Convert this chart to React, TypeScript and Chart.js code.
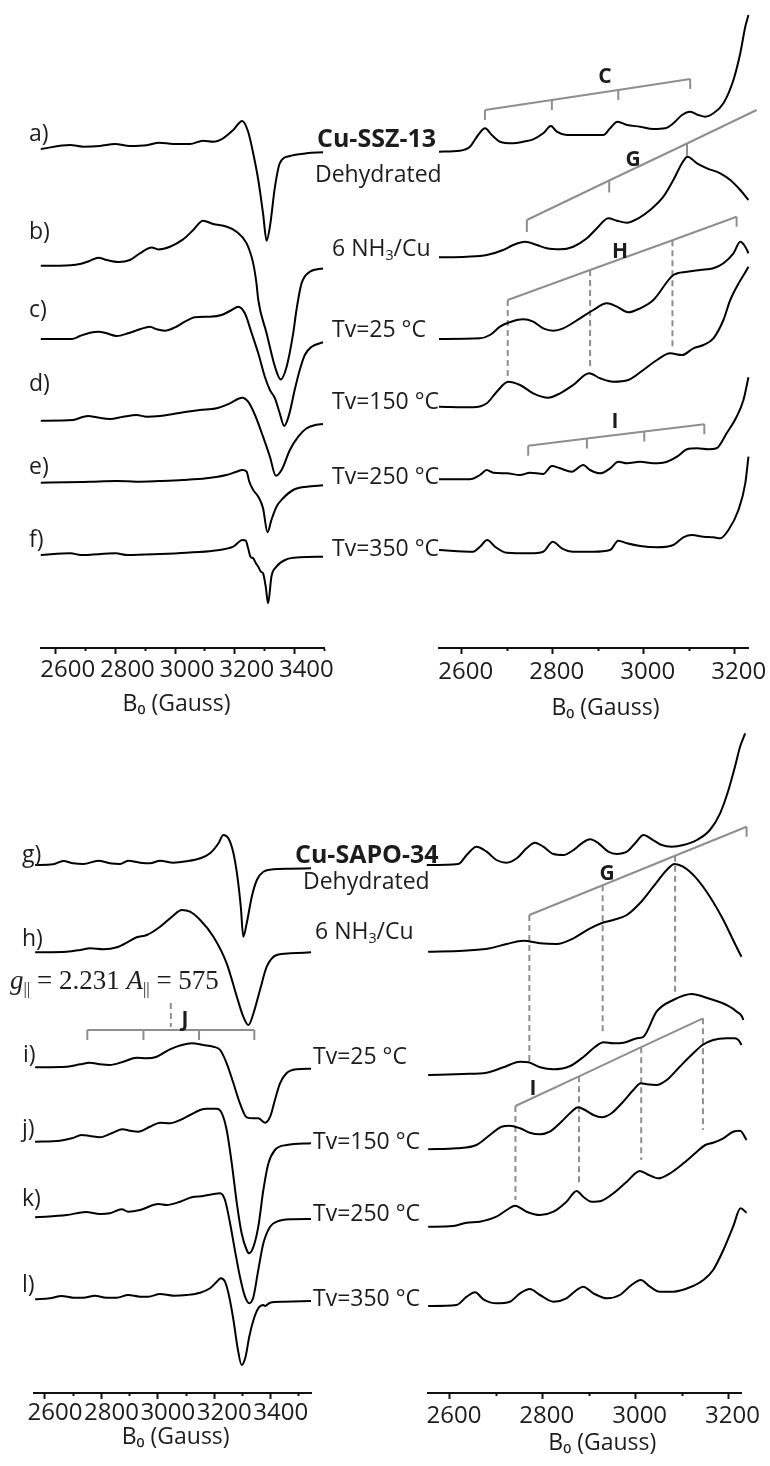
import React, { useEffect, useRef } from 'react';
import { Chart, registerables } from 'chart.js';

Chart.register(...registerables);

// ---------------- Spectra: field (G) and intensity (a.u., relative to each trace's baseline) ----------------
// Cu-SSZ-13, full field range (top-left)
const tlA_B = [2550, 2648, 2692, 2748, 2799, 2849, 2905, 2947, 2994, 3050, 3094, 3128, 3161, 3195, 3225, 3245, 3262, 3279, 3295, 3307, 3318, 3335, 3351, 3385, 3441, 3496];
const tlA_I = [0, 4, 2.3, 3, 5, 3, 3.7, 6.3, 5, 5, 8.3, 7.3, 10.7, 19, 28, 17.3, -4.3, -31, -64.3, -91.7, -77.7, -37.7, -14.3, -7, -4.3, -3.3];
const tlB_B = [2550, 2614, 2681, 2715, 2743, 2771, 2810, 2849, 2882, 2922, 2944, 2983, 3027, 3061, 3094, 3128, 3173, 3206, 3240, 3262, 3273, 3279, 3307, 3335, 3354, 3374, 3396, 3407, 3424, 3452, 3496];
const tlB_I = [0, 0, 1.7, 5, 8, 5.7, 3.7, 5.7, 12.3, 18.3, 16.3, 19, 26.3, 35.7, 45, 41.7, 39, 34, 22.3, 2.3, -17.7, -34.3, -67.7, -101, -113.7, -101, -67.7, -44.3, -17.7, -6, -2.7];
const tlC_B = [2550, 2654, 2681, 2715, 2743, 2771, 2804, 2843, 2882, 2916, 2938, 2966, 3000, 3033, 3067, 3117, 3156, 3190, 3212, 3234, 3257, 3279, 3301, 3318, 3335, 3351, 3366, 3382, 3401, 3418, 3435, 3458, 3496];
const tlC_I = [0, 0, 3, 6.3, 7.3, 5.7, 3, 5.7, 9.7, 12.3, 9.7, 8.3, 11.7, 17.3, 21.7, 22.3, 24, 29, 32.3, 25.7, 5.7, -14.3, -37.7, -51, -59.3, -74.3, -87, -76, -51, -31, -16, -7.7, -3.3];
const tlD_B = [2550, 2659, 2687, 2709, 2737, 2782, 2826, 2871, 2905, 2949, 2994, 3039, 3083, 3139, 3184, 3225, 3245, 3268, 3295, 3318, 3338, 3357, 3385, 3413, 3441, 3474, 3496];
const tlD_I = [0, 0.7, 3.4, 4.7, 3.4, 1.7, 4, 5.7, 4, 4.7, 6.7, 9, 10.7, 12.4, 17.4, 23, 19, 5.7, -16, -36, -55, -49.3, -29.3, -16, -7.6, -4, -3.3];
const tlE_B = [2550, 2637, 2715, 2804, 2871, 2949, 3027, 3105, 3172, 3206, 3226, 3240, 3249, 3262, 3279, 3295, 3310, 3323, 3340, 3362, 3396, 3441, 3496];
const tlE_I = [0, 0.4, 1, 1.7, 1, 1.7, 2.7, 4.4, 7.7, 11, 12.7, 11, 1, -7.3, -14, -25.6, -49.6, -37.3, -24, -15.6, -7.3, -4, -2.6];
const tlF_B = [2550, 2650, 2684, 2801, 2841, 2949, 3039, 3128, 3195, 3226, 3237, 3245, 3253, 3262, 3271, 3279, 3288, 3295, 3304, 3312, 3323, 3340, 3374, 3418, 3496];
const tlF_I = [0, 1.7, 0, 1.7, 0, 1, 2.3, 4.3, 8.3, 15, 14.3, 6.7, -1.7, -3.3, -8.3, -11.7, -16.7, -18.3, -31.7, -48.3, -21.7, -11.7, -4.3, -2.3, -1.7];
const tlOffsets = [499, 382.3, 309, 227.3, 165.3, 93];

// Cu-SSZ-13, parallel region (top-right)
const trA_B = [2550, 2596, 2618, 2636, 2651, 2666, 2684, 2713, 2735, 2757, 2779, 2796, 2809, 2831, 2875, 2911, 2926, 2942, 2963, 2992, 3021, 3047, 3065, 3084, 3102, 3120, 3135, 3153, 3175, 3197, 3212, 3223, 3230];
const trA_I = [0, 1, 5, 16.7, 23.4, 16.7, 10, 8.4, 10, 12.4, 18.4, 25.7, 20, 16.7, 16.7, 16.7, 23.4, 30, 26.7, 25, 22.7, 23.4, 28.4, 36.7, 40, 36.7, 35, 38.4, 48.4, 71.7, 98.4, 125, 136.7];
const trB_B = [2550, 2611, 2655, 2691, 2713, 2739, 2765, 2787, 2816, 2845, 2875, 2897, 2922, 2941, 2963, 2988, 3014, 3043, 3065, 3084, 3096, 3117, 3139, 3168, 3190, 3212, 3230];
const trB_I = [0, 0.6, 2.3, 7.3, 12.3, 15.6, 12.3, 9, 8, 10.6, 19, 29, 39, 36.6, 34.6, 39, 47.3, 60.6, 77.3, 94, 100.6, 94, 89, 84, 77.3, 67.3, 57.3];
const trC_B = [2550, 2640, 2662, 2684, 2702, 2735, 2757, 2779, 2801, 2823, 2860, 2889, 2919, 2941, 2966, 2992, 3021, 3065, 3095, 3124, 3153, 3175, 3197, 3212, 3223, 3230];
const trC_I = [0, 0.7, 4, 12.3, 16.3, 19.7, 17.3, 10.7, 8.3, 10.7, 20.7, 29, 35.7, 32.3, 26.7, 30.7, 39, 64, 67.3, 69, 70.7, 75.7, 85.7, 97.3, 92.3, 85.7];
const trD_B = [2550, 2625, 2655, 2677, 2702, 2728, 2757, 2790, 2816, 2845, 2880, 2904, 2933, 2966, 2999, 3029, 3058, 3084, 3109, 3131, 3153, 3175, 3190, 3230];
const trD_I = [0, -0.6, 3.4, 15, 25, 21.7, 13.4, 9, 13.4, 21.7, 33.4, 28.4, 25, 26.7, 36.7, 46.7, 53.4, 51.7, 58.4, 61.7, 68.4, 86.7, 106.7, 140];
const trE_B = [2550, 2618, 2640, 2655, 2669, 2699, 2728, 2750, 2779, 2798, 2816, 2842, 2867, 2882, 2904, 2926, 2944, 2963, 2992, 3021, 3051, 3073, 3095, 3117, 3142, 3160, 3182, 3204, 3219, 3230];
const trE_I = [0, 0, 4.3, 9.3, 6.6, 6, 4.3, 6.6, 5.3, 13.3, 11, 7.6, 14.3, 9.3, 6, 11, 17.6, 16, 17.6, 16, 17.6, 22.6, 30, 31, 30, 31, 46, 62.6, 79.3, 102];
const trF_B = [2550, 2625, 2640, 2656, 2673, 2699, 2750, 2779, 2800, 2820, 2845, 2889, 2926, 2944, 2963, 2992, 3029, 3065, 3087, 3106, 3131, 3153, 3168, 3186, 3208, 3223, 3230];
const trF_I = [0, -1.7, 3.3, 10, 3.3, -2.7, -3.3, -1.7, 8.3, 1.7, -1.7, -1.7, 0, 9.3, 6.7, 4, 2.7, 5, 12.7, 15, 13.3, 12.7, 11.7, 20, 40, 66.7, 93.3];
const trOffsets = [496.3, 390.7, 309, 241.3, 168.7, 98];

// Cu-SAPO-34, full field range (bottom-left)
const blG_B = [2565, 2629, 2665, 2700, 2736, 2789, 2830, 2866, 2895, 2937, 2972, 3008, 3055, 3102, 3150, 3185, 3215, 3232, 3250, 3268, 3282, 3294, 3303, 3315, 3333, 3351, 3374, 3410, 3469, 3543];
const blG_I = [0, 0.7, 4, 1.7, 1, 4.3, 1.7, 1, 4.3, 2.3, 1.7, 4.3, 2.3, 3.7, 6.7, 11.7, 21.7, 30, 26.7, 11.7, -11.7, -41.7, -71.7, -58.3, -31.7, -15, -6.7, -4.3, -3.7, -3.3];
const blH_B = [2565, 2677, 2725, 2760, 2807, 2855, 2896, 2925, 2961, 3008, 3050, 3085, 3114, 3150, 3197, 3244, 3280, 3303, 3321, 3339, 3362, 3386, 3421, 3469, 3543];
const blH_I = [0, 0.6, 2.3, 4, 3, 5, 10.6, 15, 17.3, 25.6, 35.6, 42.3, 40.6, 32.3, 15.6, -11, -44.4, -64.4, -72.7, -61, -37.7, -14.4, -2.7, -1, 0];
const blI_B = [2565, 2677, 2725, 2758, 2795, 2830, 2878, 2925, 2961, 2996, 3043, 3085, 3120, 3161, 3197, 3221, 3244, 3268, 3291, 3315, 3339, 3356, 3380, 3398, 3415, 3433, 3456, 3492, 3543];
const blI_I = [0, 0.6, 3, 4.6, 3, 2.3, 5.6, 9.6, 9, 10.6, 18, 22.3, 24, 22.3, 20.6, 17.3, 4, -16, -36, -50, -51, -51, -55.4, -49.4, -32.7, -16, -6, -2, -1.4];
const blJ_B = [2565, 2653, 2695, 2730, 2759, 2795, 2836, 2875, 2901, 2930, 2972, 3008, 3043, 3079, 3114, 3150, 3173, 3209, 3227, 3244, 3262, 3280, 3297, 3315, 3324, 3339, 3356, 3374, 3392, 3415, 3457, 3543];
const blJ_I = [0, 1, 3.4, 6.7, 5.7, 4.4, 8.4, 12.4, 11, 10, 15, 19, 18.4, 21.7, 26.7, 31.7, 33, 33, 28.4, 11.7, -21.6, -61.6, -91.6, -108.3, -111.6, -105, -85, -48.3, -21.6, -8.3, -3.3, -1.6];
const blK_B = [2565, 2677, 2745, 2795, 2830, 2872, 2895, 2937, 3002, 3031, 3079, 3120, 3161, 3197, 3221, 3238, 3256, 3273, 3291, 3309, 3324, 3339, 3356, 3374, 3398, 3422, 3469, 3543];
const blK_I = [0, 2.3, 5.3, 3.3, 4, 8, 5.6, 7.3, 13.3, 12.3, 15.6, 20, 21.3, 23.3, 24, 17.3, -6, -32.7, -59.4, -79.4, -86, -79.4, -52.7, -26, -9.4, -4.4, -2, -1.7];
const blL_B = [2565, 2617, 2659, 2700, 2735, 2777, 2818, 2854, 2895, 2937, 2966, 3008, 3055, 3102, 3150, 3185, 3209, 3223, 3238, 3253, 3268, 3282, 3297, 3311, 3324, 3339, 3356, 3374, 3380, 3398, 3445, 3543];
const blL_I = [0, 1, 3.3, 1.6, 1.6, 3.6, 1.6, 1.6, 4.3, 2.6, 2.6, 5.3, 3.6, 4.3, 6.6, 11, 17.6, 21, 17.6, 2.6, -20.7, -47.4, -65.7, -57.4, -37.4, -20.7, -9, -5.7, -6.7, -3.4, -2.4, -1.7];
const blOffsets = [528, 440.7, 325.7, 251.3, 175.7, 93.7];

// Cu-SAPO-34, parallel region (bottom-right)
const brG_B = [2550, 2618, 2636, 2657, 2679, 2700, 2722, 2744, 2765, 2783, 2801, 2823, 2844, 2866, 2884, 2902, 2920, 2941, 2959, 2981, 2999, 3017, 3035, 3056, 3078, 3103, 3132, 3160, 3182, 3200, 3214, 3225, 3236];
const brG_I = [0, 1, 10, 18.3, 13.3, 5, 2.3, 6.7, 16.7, 22.3, 18.3, 11, 10, 15, 21.7, 25.7, 21.7, 13.3, 11, 13.3, 21.7, 30, 25.7, 20, 18.3, 20, 25, 35, 51.7, 75, 98.3, 118.3, 131.7];
const brH_B = [2553, 2629, 2686, 2722, 2758, 2794, 2830, 2866, 2902, 2929, 2952, 2981, 3009, 3038, 3067, 3084, 3102, 3131, 3160, 3189, 3210, 3228, 3239];
const brH_I = [0, 1, 3.4, 7.7, 11, 8.4, 7.7, 13.4, 23.4, 29, 31.7, 36.7, 48.4, 65, 81.7, 87.7, 85, 73.4, 55, 31.7, 11.7, -5, -13.3];
const brI_B = [2553, 2629, 2679, 2715, 2751, 2769, 2794, 2823, 2859, 2888, 2913, 2931, 2952, 2974, 3003, 3017, 3045, 3081, 3121, 3146, 3168, 3196, 3218, 3232, 3239];
const brI_I = [0, 1, 2.3, 7.7, 13.3, 12.7, 7.7, 5.7, 9, 18.3, 28.3, 32.7, 31.7, 32.3, 36.7, 38.3, 63.3, 75, 81, 78.3, 75, 70, 63.3, 55, 37];
const brJ_B = [2553, 2614, 2657, 2686, 2711, 2729, 2751, 2772, 2794, 2815, 2840, 2862, 2876, 2891, 2909, 2927, 2948, 2973, 2995, 3011, 3024, 3045, 3067, 3095, 3124, 3144, 3167, 3196, 3214, 3228, 3239];
const brJ_I = [0, 1, 4.3, 14.3, 22.6, 23.6, 21, 16.6, 15, 17.6, 27.6, 37.6, 42, 39.3, 34.3, 32, 36, 47.6, 59.3, 66, 65, 64.3, 69.3, 82.6, 96, 104.3, 109.3, 111, 111, 104.3, 87.6];
const brK_B = [2553, 2607, 2636, 2664, 2700, 2722, 2740, 2765, 2794, 2823, 2851, 2873, 2887, 2905, 2927, 2952, 2981, 3009, 3024, 3049, 3074, 3103, 3132, 3150, 3167, 3189, 3210, 3225, 3239];
const brK_I = [0, 0.7, 4, 5, 10, 16.7, 21, 15, 11.7, 15, 25, 35.7, 30, 25, 26, 33.4, 45, 55.7, 52.7, 48.4, 53.4, 63.4, 75, 81.7, 84, 88.4, 95, 96, 86.7];
const brL_B = [2553, 2614, 2636, 2654, 2672, 2700, 2729, 2751, 2772, 2794, 2823, 2851, 2873, 2887, 2909, 2938, 2966, 2991, 3011, 3031, 3052, 3081, 3117, 3146, 3167, 3189, 3210, 3226, 3239];
const brL_I = [0, 1, 9.3, 13.7, 6.7, 2.7, 4.3, 12.7, 17, 11, 4.3, 7.7, 16, 19.3, 12.7, 7.7, 11, 21, 26, 19.3, 14.3, 14.3, 18.7, 26, 36, 56, 79.3, 97.7, 93.3];
const brOffsets = [528, 441.3, 318, 243.7, 166.3, 87];

// ---------------- Hyperfine brackets (field positions and bracket heights) ----------------
const bracketC_B = [2651, 2798, 2944, 3102];
const bracketC_top = [538, 548, 558, 569];
const bracketGt_B = [2743, 2924, 3095, 3248];
const bracketGt_top = [428, 467.5, 504.5, 538];
const bracketH_B = [2701, 2882, 3063, 3204];
const bracketH_top = [348, 378, 407.8, 431.3];
const bracketH_drop = [269.7, 279.7, 299.7, null];
const bracketIt_B = [2746, 2875, 3001, 3133];
const bracketIt_top = [202.3, 209.4, 216.4, 223.7];
const bracketJ_B = [2750, 2949, 3146, 3342];
const bracketJ_top = [363, 363, 363, 363];
const markerJ_B = 3046;
const markerJ_span = [366, 390];
const bracketGb_B = [2771, 2929, 3085, 3239];
const bracketGb_top = [478, 507.8, 537.2, 566.3];
const bracketGb_drop = [329.7, 358, 399.7, null];
const bracketIb_B = [2741, 2878, 3012, 3145];
const bracketIb_top = [287, 316.7, 345.8, 374.7];
const bracketIb_drop = [193, 209.7, 233, 263];

const TICK_LABEL_STEP = 200;
const TICK_STEP = 100;

const SANS = '"Open Sans", "DejaVu Sans", sans-serif';
const TEXT = '#1c1c1c';
const GREY = '#8e8e8e';

function spectrum(B: number[], I: number[], offset: number) {
  return {
    data: B.map((b, k) => ({ x: b, y: I[k] + offset })),
    borderColor: '#000',
    borderWidth: 2,
    pointRadius: 0,
    fill: false,
    cubicInterpolationMode: 'monotone',
    clip: false,
  };
}

function bracketSets(B: number[], tops: number[], tick: number, drops?: (number | null)[]) {
  const solidTicks: any[] = [];
  const dashed: any[] = [];
  B.forEach((b, i) => {
    const d = drops ? drops[i] : null;
    if (d !== null && d !== undefined) {
      dashed.push({ x: b, y: tops[i] }, { x: b, y: d }, { x: b, y: null });
    } else {
      solidTicks.push({ x: b, y: tops[i] }, { x: b, y: tops[i] - tick }, { x: b, y: null });
    }
  });
  const base = { borderColor: GREY, borderWidth: 2, pointRadius: 0, tension: 0, clip: false, spanGaps: false, fill: false };
  const sets: any[] = [
    { ...base, data: B.map((b, i) => ({ x: b, y: tops[i] })) },
  ];
  if (solidTicks.length) sets.push({ ...base, data: solidTicks });
  if (dashed.length) sets.push({ ...base, borderDash: [6, 4], data: dashed });
  return sets;
}

type PanelCfg = {
  top: number; height: number; left: number; right: number; axisY: number;
  xMin: number; xMax: number; labelOffset: number; tickPad: number; title: string;
  datasets: any[];
};

function makeConfig(p: PanelCfg): any {
  const areaBottom = p.axisY - p.top;
  return {
    type: 'line',
    data: { datasets: p.datasets },
    options: {
      animation: false,
      responsive: false,
      maintainAspectRatio: false,
      devicePixelRatio: 1,
      events: [],
      layout: { padding: { left: p.left, right: 770 - p.right, top: 0, bottom: 0 } },
      plugins: { legend: { display: false }, tooltip: { enabled: false }, title: { display: false } },
      scales: {
        y: { display: false, min: 0, max: areaBottom },
        x: {
          type: 'linear',
          position: 'bottom',
          min: p.xMin,
          max: p.xMax,
          afterFit: (s: any) => { s.height = p.height - areaBottom; },
          border: { display: true, color: '#111', width: 2 },
          grid: {
            drawOnChartArea: false,
            drawTicks: true,
            tickLength: 6,
            tickColor: '#111',
            tickWidth: 2,
            tickBorderDash: (c: any) => (c.tick && c.tick.value % TICK_LABEL_STEP !== 0 ? [2, 40] : []),
          },
          ticks: {
            stepSize: TICK_STEP,
            includeBounds: false,
            autoSkip: false,
            maxRotation: 0,
            minRotation: 0,
            padding: p.tickPad,
            labelOffset: p.labelOffset,
            color: TEXT,
            font: { family: SANS, size: 24 },
            callback: (v: any) => (Number(v) % TICK_LABEL_STEP === 0 ? String(v) : ''),
          },
          title: { display: true, text: p.title, color: TEXT, font: { family: SANS, size: 23 }, padding: 0 },
        },
      },
    },
  };
}

function Panel({ cfg }: { cfg: PanelCfg }) {
  const ref = useRef<HTMLCanvasElement>(null);
  useEffect(() => {
    const chart = new Chart(ref.current as HTMLCanvasElement, makeConfig(cfg));
    return () => chart.destroy();
  }, []);
  return (
    <canvas
      ref={ref}
      width={770}
      height={cfg.height}
      style={{ position: 'absolute', left: 0, top: cfg.top, width: 770, height: cfg.height }}
    />
  );
}

const NB = '\u00a0';

const panelTL: PanelCfg = {
  top: 0, height: 718, left: 40.8, right: 324.2, axisY: 648, xMin: 2550, xMax: 3500, labelOffset: 12, tickPad: 2,
  title: 'B\u2080 (Gauss)' + NB + NB,
  datasets: [
    spectrum(tlA_B, tlA_I, tlOffsets[0]), spectrum(tlB_B, tlB_I, tlOffsets[1]), spectrum(tlC_B, tlC_I, tlOffsets[2]),
    spectrum(tlD_B, tlD_I, tlOffsets[3]), spectrum(tlE_B, tlE_I, tlOffsets[4]), spectrum(tlF_B, tlF_I, tlOffsets[5]),
  ],
};
const panelTR: PanelCfg = {
  top: 0, height: 722, left: 439, right: 748, axisY: 648, xMin: 2550, xMax: 3229, labelOffset: 4, tickPad: 4,
  title: NB.repeat(4) + 'B\u2080 (Gauss)',
  datasets: [
    spectrum(trA_B, trA_I, trOffsets[0]), spectrum(trB_B, trB_I, trOffsets[1]), spectrum(trC_B, trC_I, trOffsets[2]),
    spectrum(trD_B, trD_I, trOffsets[3]), spectrum(trE_B, trE_I, trOffsets[4]), spectrum(trF_B, trF_I, trOffsets[5]),
    ...bracketSets(bracketC_B, bracketC_top, 10),
    ...bracketSets(bracketGt_B, bracketGt_top, 12),
    ...bracketSets(bracketH_B, bracketH_top, 10, bracketH_drop),
    ...bracketSets(bracketIt_B, bracketIt_top, 10),
  ],
};
const panelBL: PanelCfg = {
  top: 700, height: 751, left: 33.7, right: 311.6, axisY: 1393, xMin: 2560, xMax: 3545, labelOffset: 10, tickPad: 0,
  title: NB + 'B\u2080 (Gauss)',
  datasets: [
    spectrum(blG_B, blG_I, blOffsets[0]), spectrum(blH_B, blH_I, blOffsets[1]), spectrum(blI_B, blI_I, blOffsets[2]),
    spectrum(blJ_B, blJ_I, blOffsets[3]), spectrum(blK_B, blK_I, blOffsets[4]), spectrum(blL_B, blL_I, blOffsets[5]),
    ...bracketSets(bracketJ_B, bracketJ_top, 10),
    ...bracketSets([markerJ_B], [markerJ_span[1]], 0, [markerJ_span[0]]),
  ],
};
const panelBR: PanelCfg = {
  top: 700, height: 757, left: 427.7, right: 741, axisY: 1393, xMin: 2552, xMax: 3227, labelOffset: 4, tickPad: 3,
  title: NB.repeat(6) + 'B\u2080 (Gauss)',
  datasets: [
    spectrum(brG_B, brG_I, brOffsets[0]), spectrum(brH_B, brH_I, brOffsets[1]), spectrum(brI_B, brI_I, brOffsets[2]),
    spectrum(brJ_B, brJ_I, brOffsets[3]), spectrum(brK_B, brK_I, brOffsets[4]), spectrum(brL_B, brL_I, brOffsets[5]),
    ...bracketSets(bracketGb_B, bracketGb_top, 10, bracketGb_drop),
    ...bracketSets(bracketIb_B, bracketIb_top, 10, bracketIb_drop),
  ],
};

function Txt({ x, y, size = 23, bold = false, center = false, family = SANS, children }: any) {
  return (
    <div
      style={{
        position: 'absolute', left: x, top: y,
        transform: center ? 'translate(-50%, -50%)' : 'translateY(-50%)',
        fontFamily: family, fontSize: size, fontWeight: bold ? 700 : 400,
        lineHeight: 1, whiteSpace: 'nowrap', color: TEXT,
      }}
    >
      {children}
    </div>
  );
}

const Sub = ({ children }: any) => (
  <span style={{ fontSize: '0.62em', position: 'relative', top: '0.3em' }}>{children}</span>
);

export default function App() {
  return (
    <div style={{ position: 'absolute', left: 0, top: 0, width: 770, height: 1466, background: '#fff', overflow: 'hidden' }}>
      <Panel cfg={panelTL} />
      <Panel cfg={panelTR} />
      <Panel cfg={panelBL} />
      <Panel cfg={panelBR} />

      {/* trace letters */}
      <Txt x={29} y={132}>a)</Txt>
      <Txt x={29} y={230}>b)</Txt>
      <Txt x={29} y={308}>c)</Txt>
      <Txt x={29} y={382}>d)</Txt>
      <Txt x={29} y={465}>e)</Txt>
      <Txt x={29} y={538}>f)</Txt>
      <Txt x={22} y={853}>g)</Txt>
      <Txt x={22} y={937}>h)</Txt>
      <Txt x={23} y={1053}>i)</Txt>
      <Txt x={22} y={1127}>j)</Txt>
      <Txt x={22} y={1197}>k)</Txt>
      <Txt x={22} y={1283}>l)</Txt>

      {/* condition labels, Cu-SSZ-13 */}
      <Txt x={317} y={137} size={25} bold>Cu-SSZ-13</Txt>
      <Txt x={315} y={173}>Dehydrated</Txt>
      <Txt x={332} y={247}>6 NH<Sub>3</Sub>/Cu</Txt>
      <Txt x={332} y={328}>Tv=25 °C</Txt>
      <Txt x={332} y={400}>Tv=150 °C</Txt>
      <Txt x={332} y={475}>Tv=250 °C</Txt>
      <Txt x={332} y={547}>Tv=350 °C</Txt>

      {/* condition labels, Cu-SAPO-34 */}
      <Txt x={295} y={853} size={25} bold>Cu-SAPO-34</Txt>
      <Txt x={303} y={880}>Dehydrated</Txt>
      <Txt x={315} y={930}>6 NH<Sub>3</Sub>/Cu</Txt>
      <Txt x={313} y={1055}>Tv=25 °C</Txt>
      <Txt x={313} y={1140}>Tv=150 °C</Txt>
      <Txt x={313} y={1212}>Tv=250 °C</Txt>
      <Txt x={313} y={1297}>Tv=350 °C</Txt>

      {/* bracket letters */}
      <Txt x={605} y={75} size={21} bold center>C</Txt>
      <Txt x={633} y={158} size={21} bold center>G</Txt>
      <Txt x={620} y={250} size={21} bold center>H</Txt>
      <Txt x={615} y={420} size={21} bold center>I</Txt>
      <Txt x={185} y={1018} size={21} bold center>J</Txt>
      <Txt x={607} y={872} size={21} bold center>G</Txt>
      <Txt x={533} y={1087} size={21} bold center>I</Txt>

      <Txt x={10} y={980} size={27} family={'"Liberation Serif", "DejaVu Serif", serif'}>
        <i>g</i><Sub>||</Sub> = 2.231 <i>A</i><Sub>||</Sub> = 575
      </Txt>
    </div>
  );
}
